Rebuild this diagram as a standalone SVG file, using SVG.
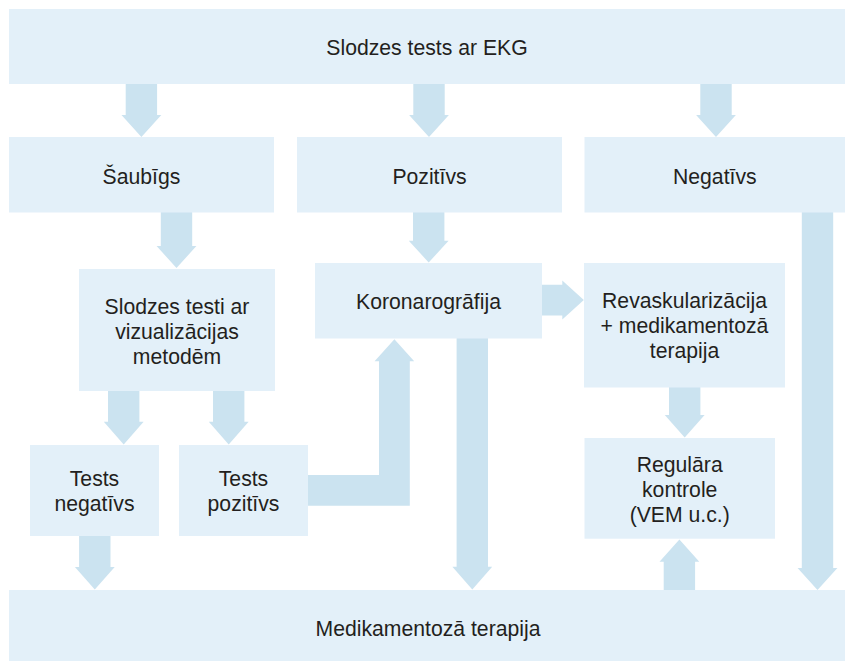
<svg xmlns="http://www.w3.org/2000/svg" width="845" height="661" viewBox="0 0 845 661">
<style>
.box{fill:#e3f0f9}
.arr{fill:#cbe3f0}
text{font-family:"Liberation Sans",Arial,Helvetica,sans-serif;font-size:21.2px;fill:#231f20;text-anchor:middle}
</style>
<rect width="845" height="661" fill="#ffffff"/>
<g id="connectors">
<polygon class="arr" points="125.7,84 157.1,84 157.1,115 161.3,115 141.4,137 121.5,115 125.7,115"/>
<polygon class="arr" points="413.3,84 444.7,84 444.7,115 448.9,115 429,137 409.1,115 413.3,115"/>
<polygon class="arr" points="700.3,84 731.7,84 731.7,115 735.9,115 716,137 696.1,115 700.3,115"/>
<polygon class="arr" points="160.8,212 192.2,212 192.2,246 196.4,246 176.5,268 156.6,246 160.8,246"/>
<polygon class="arr" points="413,212 444.4,212 444.4,240.7 448.6,240.7 428.7,262.5 408.8,240.7 413,240.7"/>
<polygon class="arr" points="108,391 139.4,391 139.4,421.7 143.6,421.7 123.7,444.5 103.8,421.7 108,421.7"/>
<polygon class="arr" points="213,391 244.4,391 244.4,421.7 248.6,421.7 228.7,444.5 208.8,421.7 213,421.7"/>
<polygon class="arr" points="79.1,535 110.5,535 110.5,567 114.7,567 94.8,589.5 74.9,567 79.1,567"/>
<polygon class="arr" points="456.6,338 488,338 488,566.7 492.2,566.7 472.3,589.5 452.4,566.7 456.6,566.7"/>
<polygon class="arr" points="801.8,212 833.2,212 833.2,568 837.4,568 817.5,590 797.6,568 801.8,568"/>
<polygon class="arr" points="669,387 700.4,387 700.4,415 704.6,415 684.7,437.5 664.8,415 669,415"/>
<polygon class="arr" points="663.7,590 695.1,590 695.1,561.7 699.3,561.7 679.4,539.5 659.5,561.7 663.7,561.7"/>
<polygon class="arr" points="542,284.8 562.3,284.8 562.3,280.6 583.8,300 562.3,319.6 562.3,315.4 542,315.4"/>
<polygon class="arr" points="308,475 379,475 379,361.3 374.6,361.3 394.4,339.3 414.2,361.3 409.8,361.3 409.8,505.7 308,505.7"/>
</g>
<g id="n-top"><rect class="box" x="9" y="9" width="836" height="75"/><text x="427" y="55">Slodzes tests ar EKG</text></g>
<g id="n-saubigs"><rect class="box" x="9" y="137" width="265" height="75.5"/><text x="141.4" y="184">Šaubīgs</text></g>
<g id="n-pozitivs"><rect class="box" x="297" y="137" width="265" height="75.5"/><text x="429.5" y="184">Pozitīvs</text></g>
<g id="n-negativs"><rect class="box" x="584.5" y="137" width="260.5" height="75.5"/><text x="714.8" y="184">Negatīvs</text></g>
<g id="n-slodzes-testi"><rect class="box" x="79" y="269" width="196" height="122"/><text x="177" y="313.5">Slodzes testi ar</text><text x="177" y="338.5">vizualizācijas</text><text x="177" y="363.5">metodēm</text></g>
<g id="n-koronarografija"><rect class="box" x="315" y="263" width="227" height="75.5"/><text x="428.5" y="309">Koronarogrāfija</text></g>
<g id="n-revaskularizacija"><rect class="box" x="584" y="263" width="201" height="124.5"/><text x="684.5" y="307.7">Revaskularizācija</text><text x="684.5" y="332.7">+ medikamentozā</text><text x="684.5" y="357.7">terapija</text></g>
<g id="n-tests-negativs"><rect class="box" x="30" y="445" width="129" height="91"/><text x="94.5" y="485.7">Tests</text><text x="94.5" y="511">negatīvs</text></g>
<g id="n-tests-pozitivs"><rect class="box" x="179" y="445" width="129" height="91"/><text x="243.5" y="485.7">Tests</text><text x="243.5" y="511">pozitīvs</text></g>
<g id="n-regulara"><rect class="box" x="584.5" y="438" width="190.5" height="100.7"/><text x="679.7" y="471.7">Regulāra</text><text x="679.7" y="496.7">kontrole</text><text x="679.7" y="521.7">(VEM u.c.)</text></g>
<g id="n-medikamentoza"><rect class="box" x="9" y="590" width="836" height="71"/><text x="428" y="635.5">Medikamentozā terapija</text></g>
</svg>
